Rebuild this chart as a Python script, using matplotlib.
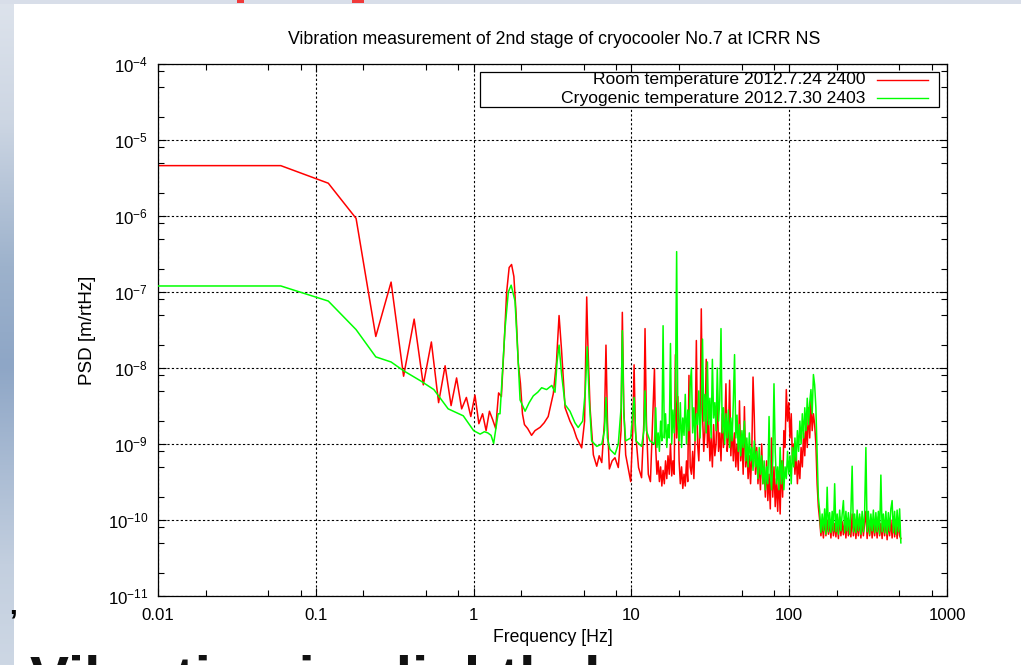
"""Vibration PSD of the 2nd stage of cryocooler No.7 (room vs cryogenic), slide crop."""
import numpy as np
import matplotlib
matplotlib.use("Agg")
import matplotlib.pyplot as plt
from matplotlib.colors import LinearSegmentedColormap
from matplotlib.patches import Rectangle
from matplotlib.ticker import LogLocator, NullFormatter

W, H = 1021, 665

plt.rcParams["font.family"] = ["Liberation Sans", "DejaVu Sans"]
plt.rcParams["mathtext.fontset"] = "custom"
plt.rcParams["mathtext.rm"] = "Liberation Sans"
plt.rcParams["mathtext.it"] = "Liberation Sans:italic"
plt.rcParams["mathtext.bf"] = "Liberation Sans:bold"

TITLE = "Vibration measurement of 2nd stage of cryocooler No.7 at ICRR NS"
XLABEL = "Frequency [Hz]"
YLABEL = "PSD [m/rtHz]"
RED_LABEL = "Room temperature 2012.7.24 2400"
GREEN_LABEL = "Cryogenic temperature 2012.7.30 2403"
SLIDE_TEXT = "Vibration is slightly larger"

XTICKS = [0.01, 0.1, 1, 10, 100, 1000]
XTICK_LABELS = ["0.01", "0.1", "1", "10", "100", "1000"]
YTICKS = [1e-11, 1e-10, 1e-9, 1e-8, 1e-7, 1e-6, 1e-5, 1e-4]

# --- low frequency part (read point by point) ---
red_lo_freq = [0.01, 0.06, 0.12, 0.18, 0.24, 0.30, 0.36, 0.42, 0.48, 0.54,
               0.60, 0.66, 0.72, 0.78, 0.84, 0.90, 0.96, 1.02, 1.08, 1.14,
               1.20, 1.26, 1.32, 1.38, 1.44, 1.50, 1.56, 1.62, 1.68, 1.74,
               1.80, 1.86, 1.92, 1.98, 2.04, 2.10, 2.2, 2.33, 2.45, 2.64,
               2.8, 2.97, 3.2, 3.35, 3.48, 3.61, 3.8, 4.08, 4.3, 4.5,
               4.84, 5.05, 5.21, 5.3, 5.47, 5.74, 6.03, 6.25, 6.49, 6.75,
               6.9, 7.05, 7.25, 7.55, 7.87, 8.26, 8.6, 8.76, 8.95, 9.2,
               9.9, 10.2, 10.4, 10.6, 11.1, 11.6, 12.0, 12.2, 12.45, 12.8,
               13.2]
red_lo_psd = [4.6e-6, 4.6e-6, 2.7e-6, 9.3e-7, 2.6e-8, 1.35e-7, 7.8e-9, 4.4e-8, 6.0e-9, 2.2e-8,
              3.5e-9, 1.07e-8, 3.2e-9, 7.4e-9, 2.9e-9, 4.1e-9, 2.3e-9, 4.4e-9, 1.85e-9, 2.5e-9,
              1.5e-9, 2.7e-9, 2.1e-9, 1.6e-9, 4.7e-9, 4.2e-9, 2.0e-8, 1.0e-7, 2.1e-7, 2.3e-7,
              1.6e-7, 5.0e-8, 1.15e-8, 6.3e-9, 2.5e-9, 1.8e-9, 1.6e-9, 1.3e-9, 1.5e-9, 1.66e-9,
              1.9e-9, 2.3e-9, 4.6e-9, 1.2e-8, 4.9e-8, 1.7e-8, 3.0e-9, 2.0e-9, 1.6e-9, 1.2e-9,
              8.9e-10, 2.0e-9, 8.6e-8, 2.0e-8, 3.0e-9, 7.2e-10, 5.1e-10, 7.0e-10, 5.7e-10, 2.0e-9,
              2.0e-8, 2.0e-9, 4.7e-10, 6.0e-10, 6.6e-10, 4.9e-10, 1.5e-9, 5.4e-8, 3.0e-9, 7.2e-10,
              3.2e-10, 1.5e-9, 1.1e-8, 1.5e-9, 4.9e-10, 3.6e-10, 2.0e-9, 3.3e-8, 2.0e-9, 4.0e-10,
              3.2e-10]

green_lo_freq = [0.01, 0.06, 0.12, 0.18, 0.24, 0.30, 0.36, 0.46, 0.56, 0.69,
                 0.86, 1.0, 1.1, 1.17, 1.23, 1.29, 1.34, 1.43, 1.47, 1.58,
                 1.66, 1.73, 1.83, 1.92, 1.97, 2.12, 2.25, 2.39, 2.55, 2.7,
                 2.9, 3.13, 3.28, 3.38, 3.48, 3.61, 3.8, 4.08, 4.39, 4.6,
                 4.91, 5.1, 5.25, 5.4, 5.6, 6.03, 6.49, 6.75, 6.9, 7.05,
                 7.31, 7.87, 8.26, 8.6, 8.76, 8.95, 9.2, 9.9, 10.4, 10.7,
                 11.6, 12.0, 12.2, 12.45, 13.1]
green_lo_psd = [1.2e-7, 1.2e-7, 7.6e-8, 3.2e-8, 1.4e-8, 1.2e-8, 9.2e-9, 6.8e-9, 5.2e-9, 2.9e-9,
                2.35e-9, 1.5e-9, 1.35e-9, 1.45e-9, 1.4e-9, 1.3e-9, 1.02e-9, 2.5e-9, 2.5e-9, 3.2e-8,
                1.0e-7, 1.23e-7, 7.6e-8, 1.15e-8, 3.8e-9, 2.7e-9, 3.5e-9, 4.3e-9, 4.8e-9, 5.5e-9,
                5.2e-9, 5.9e-9, 4.8e-9, 1.2e-8, 2.0e-8, 8.3e-9, 3.3e-9, 2.7e-9, 1.9e-9, 1.65e-9,
                2.0e-9, 5.0e-9, 1.9e-8, 4.0e-9, 1.1e-9, 9.3e-10, 1.0e-9, 1.5e-9, 4.1e-9, 1.2e-9,
                8.5e-10, 7.3e-10, 1.0e-9, 3.0e-9, 3.1e-8, 2.5e-9, 1.1e-9, 1.2e-9, 4.1e-9, 1.1e-9,
                9.3e-10, 1.5e-9, 5.0e-9, 1.5e-9, 1.1e-9]

# --- dense part, values in units of 1e-10 m/rtHz, read left to right ---
UNIT = 1e-10
BUSY_F0, BUSY_F1 = 14.0, 153.0      # busy band with resonance lines
FLOOR_F0, FLOOR_F1 = 156.0, 510.0   # flat noise floor

red_busy = [98, 9, 4, 6, 3.2, 5, 2.8, 4.5, 3, 6,
            3.5, 7, 4, 10, 3.8, 6, 4, 150, 12, 42,
            6, 3, 5, 2.6, 4, 2.8, 6, 3.2, 80, 5,
            4, 8, 3.5, 12, 230, 10, 6, 20, 600, 25,
            8, 15, 130, 9, 20, 6, 12, 5, 18, 7,
            10, 51, 8, 14, 6, 25, 9, 15, 62, 8,
            12, 69, 7, 18, 6, 14, 5, 10, 4.5, 37,
            6, 12, 4, 31, 5, 9, 3.5, 7, 3, 8,
            76, 23, 4, 9, 3, 6, 2.5, 10, 3, 5,
            2, 6, 1.8, 4, 1.4, 12, 2, 5, 1.5, 3.5,
            1.3, 4, 1.2, 6, 2, 15, 9, 52, 20, 35,
            12, 25, 6, 10, 4, 8, 3, 6, 3.5, 9,
            5, 14, 7, 20, 9, 30, 12, 37, 15, 25,
            18, 10, 3, 1.5]
green_busy = [10, 30, 9, 14, 8, 20, 11, 360, 12, 25,
              9, 18, 12, 210, 10, 28, 14, 40, 3400, 20,
              11, 35, 9, 22, 13, 45, 10, 28, 15, 60,
              100, 14, 30, 11, 25, 18, 50, 12, 30, 240,
              20, 45, 14, 120, 18, 40, 12, 130, 22, 35,
              15, 100, 20, 38, 330, 14, 30, 10, 25, 12,
              28, 9, 22, 11, 35, 150, 12, 24, 8, 18,
              7, 15, 9, 20, 6, 12, 5, 14, 6, 9,
              4.5, 11, 5, 8, 3.5, 9, 4, 7, 3, 6,
              2.5, 5, 3, 23, 4, 2.5, 6, 62, 8, 3,
              5, 2.5, 9, 3, 6, 2.5, 5, 3.5, 8, 4,
              7, 3, 9, 5, 12, 6, 15, 8, 20, 10,
              25, 12, 30, 15, 40, 18, 35, 52, 25, 82,
              60, 30, 8, 2]
red_floor = [1.0, 0.62, 0.9, 0.58, 1.1, 0.62, 1.0, 0.65, 0.95, 0.58,
             1.05, 0.62, 0.9, 0.6, 1.0, 0.57, 1.1, 0.62, 0.95, 0.64,
             1.0, 0.58, 1.05, 0.62, 0.9, 0.6, 1.2, 0.62, 1.0, 0.57,
             0.95, 0.62, 1.1, 0.58, 1.0, 0.62, 0.9, 1.3, 0.57, 1.0,
             0.62, 1.05, 0.58, 0.95, 0.62, 1.0, 0.58, 1.1, 0.62, 0.9,
             0.57, 1.0, 0.62, 1.05, 0.55, 0.95, 0.62, 1.0, 0.58, 1.1,
             0.6, 1.0, 0.57, 0.95, 0.62, 0.57]
green_floor = [1.3, 0.68, 1.2, 0.72, 1.4, 0.65, 2.7, 0.7, 1.25, 0.68,
               1.3, 0.72, 3.0, 0.7, 1.2, 0.65, 1.35, 0.72, 1.2, 1.8,
               0.68, 1.3, 0.72, 1.25, 0.65, 1.3, 5.1, 0.7, 1.2, 0.68,
               1.35, 0.72, 1.2, 0.65, 1.3, 0.7, 1.25, 9.0, 0.7, 1.3,
               0.65, 1.2, 0.72, 1.35, 0.68, 1.25, 0.7, 1.3, 0.65, 3.9,
               0.7, 1.2, 0.68, 1.3, 0.65, 1.25, 0.72, 1.4, 1.8, 0.68,
               1.3, 0.65, 1.35, 0.7, 1.4, 0.5]


def series(lo_f, lo_v, busy, floor):
    f = np.concatenate([lo_f,
                        np.geomspace(BUSY_F0, BUSY_F1, len(busy)),
                        np.geomspace(FLOOR_F0, FLOOR_F1, len(floor))])
    v = np.concatenate([lo_v, np.asarray(busy) * UNIT, np.asarray(floor) * UNIT])
    return f, v


def px(x, y):
    """figure fraction from pixel position (origin top left)"""
    return x / W, 1 - y / H


def main() -> None:
    fig = plt.figure(figsize=(W / 100, H / 100), dpi=100)
    fig.patch.set_facecolor("white")

    # slide decoration: gradient strip on the left, thin bar on top
    strip = fig.add_axes([0, 0, 13 / W, 1])
    cmap = LinearSegmentedColormap.from_list(
        "strip", [(0, "#dde3ec"), (0.18, "#cdd6e3"), (0.4, "#9db2cc"),
                  (0.55, "#8ea6c6"), (0.7, "#a9bbd3"), (0.85, "#c3cfdf"),
                  (1, "#cdd7e4")])
    strip.imshow(np.linspace(0, 1, 256).reshape(-1, 1), aspect="auto", cmap=cmap)
    strip.axis("off")
    fig.patches.append(Rectangle((0, 1 - 4 / H), 1, 4 / H, transform=fig.transFigure,
                                 facecolor="#d8dee9", edgecolor="none"))
    for x0, w in [(237, 7), (352, 12)]:
        fig.patches.append(Rectangle((x0 / W, 1 - 3 / H), w / W, 3 / H,
                                     transform=fig.transFigure,
                                     facecolor="#f03a3a", edgecolor="none"))

    ax = fig.add_axes([158 / W, 1 - 596 / H, 789 / W, 532 / H])
    rf, rv = series(red_lo_freq, red_lo_psd, red_busy, red_floor)
    gf, gv = series(green_lo_freq, green_lo_psd, green_busy, green_floor)
    ax.loglog(rf, rv, color="#ff0000", lw=1.1, zorder=2)
    ax.loglog(gf, gv, color="#00ff00", lw=1.1, zorder=3)

    ax.set_xlim(XTICKS[0], XTICKS[-1])
    ax.set_ylim(YTICKS[0], YTICKS[-1])
    ax.set_xticks(XTICKS)
    ax.set_xticklabels(XTICK_LABELS)
    ax.set_yticks(YTICKS)
    for axis in (ax.xaxis, ax.yaxis):
        axis.set_minor_locator(LogLocator(base=10, subs=(2, 5, 8), numticks=100))
        axis.set_minor_formatter(NullFormatter())
    ax.tick_params(which="both", direction="in", top=True, right=True,
                   width=0.8, labelsize=12.2, colors="black")
    ax.tick_params(which="major", length=6)
    ax.tick_params(which="minor", length=4)
    ax.tick_params(axis="x", pad=9)
    ax.tick_params(axis="y", pad=7)
    ax.grid(True, which="major", color="black", linestyle=(0, (2, 2)), lw=0.8)
    for s in ax.spines.values():
        s.set_linewidth(0.9)

    # gnuplot style key: right-justified text, then the line sample
    ax.add_patch(Rectangle((0.408, 0.919), 0.582, 0.066, transform=ax.transAxes,
                           facecolor="white", edgecolor="black", lw=0.9, zorder=5))
    for y, label, col in [(0.970, RED_LABEL, "#ff0000"), (0.936, GREEN_LABEL, "#00ff00")]:
        ax.text(0.897, y, label, transform=ax.transAxes, ha="right", va="center",
                fontsize=12.6, zorder=6)
        ax.plot([0.911, 0.976], [y, y], transform=ax.transAxes, color=col, lw=1.0,
                zorder=6, clip_on=False)

    fig.text(*px(554, 40), TITLE, ha="center", va="center", fontsize=12.8)
    fig.text(*px(553, 637), XLABEL, ha="center", va="center", fontsize=12.7)
    fig.text(*px(87, 330), YLABEL, ha="center", va="center", rotation=90, fontsize=13.5)

    # slide text cut off by the bottom edge of the screenshot (as in the source)
    fig.text(*px(9, 614), ",", fontsize=20, fontweight="bold", va="baseline")
    fig.text(*px(30, 697), SLIDE_TEXT, fontsize=42, fontweight="bold",
             color="#111111", va="baseline", ha="left")

    fig.savefig("out.png", dpi=100)
    plt.close(fig)


if __name__ == "__main__":
    main()
